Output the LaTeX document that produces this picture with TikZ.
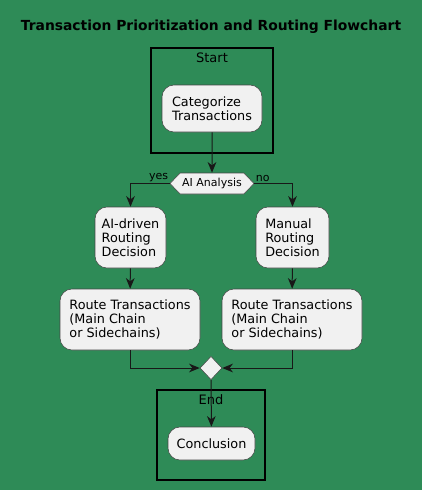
\documentclass[tikz,border=0pt]{standalone}
\usepackage{fontspec}
\setmainfont{DejaVu Sans}
\usetikzlibrary{shapes.geometric,shapes.symbols,arrows.meta}
\definecolor{bggreen}{HTML}{2E8B57}
\definecolor{boxfill}{HTML}{F1F1F1}
\definecolor{linecol}{HTML}{181818}

\begin{document}
\begin{tikzpicture}[x=0.75pt,y=-0.75pt,
  act/.style={draw=linecol!80,fill=boxfill,rounded corners=9pt,align=left,inner sep=0pt,
    font=\fontsize{9.6}{10.5}\selectfont},
  part/.style={draw=black,line width=1.5pt},
  plabel/.style={font=\fontsize{9.75}{11}\selectfont,inner sep=0pt},
  flow/.style={draw=linecol,line width=0.75pt,-{Stealth[length=8pt,width=6.5pt,inset=2.5pt]}},
  lbl/.style={font=\fontsize{8.25}{9}\selectfont,inner sep=1pt}]
\fill[bggreen] (0,0) rectangle (422,490);
\useasboundingbox (0,0) rectangle (422,490);
\node[font=\bfseries\fontsize{10.4}{12}\selectfont] (title) at (211,27) {Transaction Prioritization and Routing Flowchart};
% partitions
\draw[part] (151,48) rectangle (273,153);
\node[plabel] (startlbl) at (212,58) {Start};
\draw[part] (157,390) rectangle (265,480);
\node[plabel] (endlbl) at (211,400) {End};
% activities
\node[act,minimum width=75pt,minimum height=35.25pt] (cat) at (212,108.5) {Categorize\\Transactions};
\node[signal,signal to=west and east,signal pointer angle=92,draw=linecol!80,fill=boxfill,
  minimum width=63pt,minimum height=15.75pt,inner sep=0pt,font=\fontsize{8.25}{9}\selectfont] (ai) at (212,183.5) {AI Analysis};
\node[act,minimum width=53.25pt,minimum height=45.75pt] (aid) at (130.5,237.5) {AI-driven\\Routing\\Decision};
\node[act,minimum width=54.75pt,minimum height=45.75pt] (man) at (292.5,237.5) {Manual\\Routing\\Decision};
\node[act,minimum width=105pt,minimum height=45.75pt] (routeL) at (130,319.5) {Route Transactions\\(Main Chain\\or Sidechains)};
\node[act,minimum width=105pt,minimum height=45.75pt] (routeR) at (292,319.5) {Route Transactions\\(Main Chain\\or Sidechains)};
\node[diamond,draw=linecol!80,fill=boxfill,minimum width=16.5pt,minimum height=17.5pt,inner sep=0pt] (merge) at (211,368) {};
\node[act,minimum width=65.25pt,minimum height=24.75pt] (concl) at (211.5,443.5) {Conclusion};
% connectors
\draw[flow] (cat) -- (ai);
\draw[flow] (ai.west) -| (aid);
\draw[flow] (ai.east) -| (man);
\node[lbl,anchor=south east] (yes) at (ai.west) {yes};
\node[lbl,anchor=south west] (no) at (ai.east) {no};
\draw[flow] (aid) -- (routeL);
\draw[flow] (man) -- (routeR);
\draw[flow] (routeL) |- (merge);
\draw[flow] (routeR) |- (merge);
\draw[flow] (merge) -- (concl);
\end{tikzpicture}
\end{document}
